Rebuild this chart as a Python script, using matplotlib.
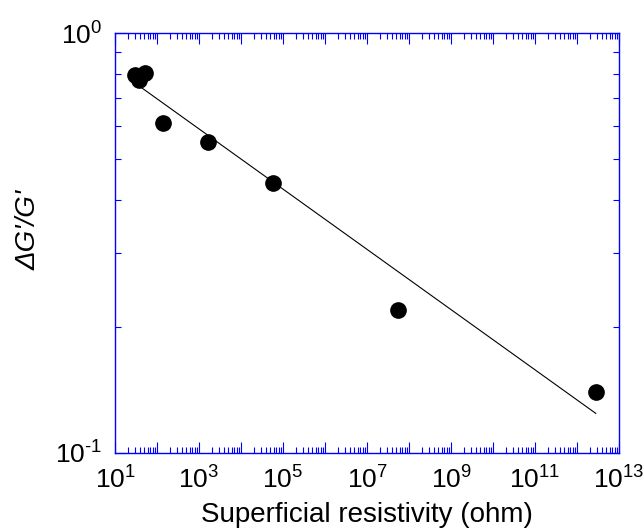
import numpy as np
import matplotlib
matplotlib.use("Agg")
import matplotlib.pyplot as plt
from matplotlib.ticker import LogLocator, FuncFormatter, NullFormatter

plt.rcParams['font.family'] = ['Liberation Sans', 'DejaVu Sans']
plt.rcParams['mathtext.fontset'] = 'custom'
plt.rcParams['mathtext.rm'] = 'Liberation Sans'
plt.rcParams['mathtext.it'] = 'Liberation Sans:italic'

# data
resistivity = [30, 37, 52, 138, 1620, 57000, 5.5e7, 2.8e12]
delta_g = [0.794, 0.773, 0.803, 0.61, 0.55, 0.44, 0.219, 0.14]

# power-law fit y = a * x^b
fit_a = 0.970
fit_b = -0.0717
fit_xmin, fit_xmax = 35, 2.8e12

x_ticks_labeled = [1, 3, 5, 7, 9, 11, 13]

fig = plt.figure(figsize=(6.43, 5.28), dpi=100)
ax = fig.add_axes([115/643, (528-453)/528, 504/643, 420/528])

fx = np.logspace(np.log10(fit_xmin), np.log10(fit_xmax), 200)
ax.plot(fx, fit_a * fx**fit_b, color='black', lw=0.8, zorder=2)
ax.plot(resistivity, delta_g, 'o', color='black', ms=11, zorder=3)

ax.set_xscale('log')
ax.set_yscale('log')
ax.set_xlim(1e1, 1e13)
ax.set_ylim(0.1, 1.0)

ax.xaxis.set_major_locator(LogLocator(base=10, numticks=30))
ax.xaxis.set_minor_locator(LogLocator(base=10, subs=np.arange(2, 10), numticks=100))
def xfmt(v, pos):
    e = int(round(np.log10(v)))
    return r'$\mathregular{10^{%d}}$' % e if e in x_ticks_labeled else ''
ax.xaxis.set_major_formatter(FuncFormatter(xfmt))
ax.xaxis.set_minor_formatter(NullFormatter())

ax.yaxis.set_major_locator(LogLocator(base=10, numticks=10))
ax.yaxis.set_minor_locator(LogLocator(base=10, subs=np.arange(2, 10), numticks=100))
def yfmt(v, pos):
    e = int(round(np.log10(v)))
    if e < 0:
        return r'$\mathregular{10^{\text{-}%d}}$' % (-e)
    return r'$\mathregular{10^{%d}}$' % e
ax.yaxis.set_major_formatter(FuncFormatter(yfmt))
ax.yaxis.set_minor_formatter(NullFormatter())

for s in ax.spines.values():
    s.set_color('blue')
    s.set_linewidth(1.0)
ax.tick_params(which='both', direction='in', color='blue', top=True, right=True,
               labelsize=19, labelcolor='black')
ax.tick_params(which='major', length=8, width=0.8)
ax.tick_params(axis='x', which='major', pad=10)
ax.tick_params(axis='y', which='major', pad=9)
ax.tick_params(which='minor', length=4, width=0.8)

ax.set_xlabel('Superficial resistivity (ohm)', fontsize=20, labelpad=6)
ax.set_ylabel("ΔG'/G'", fontsize=20, style='italic')
ax.yaxis.set_label_coords(-0.145, 0.531)

fig.savefig('out.png', dpi=100)
